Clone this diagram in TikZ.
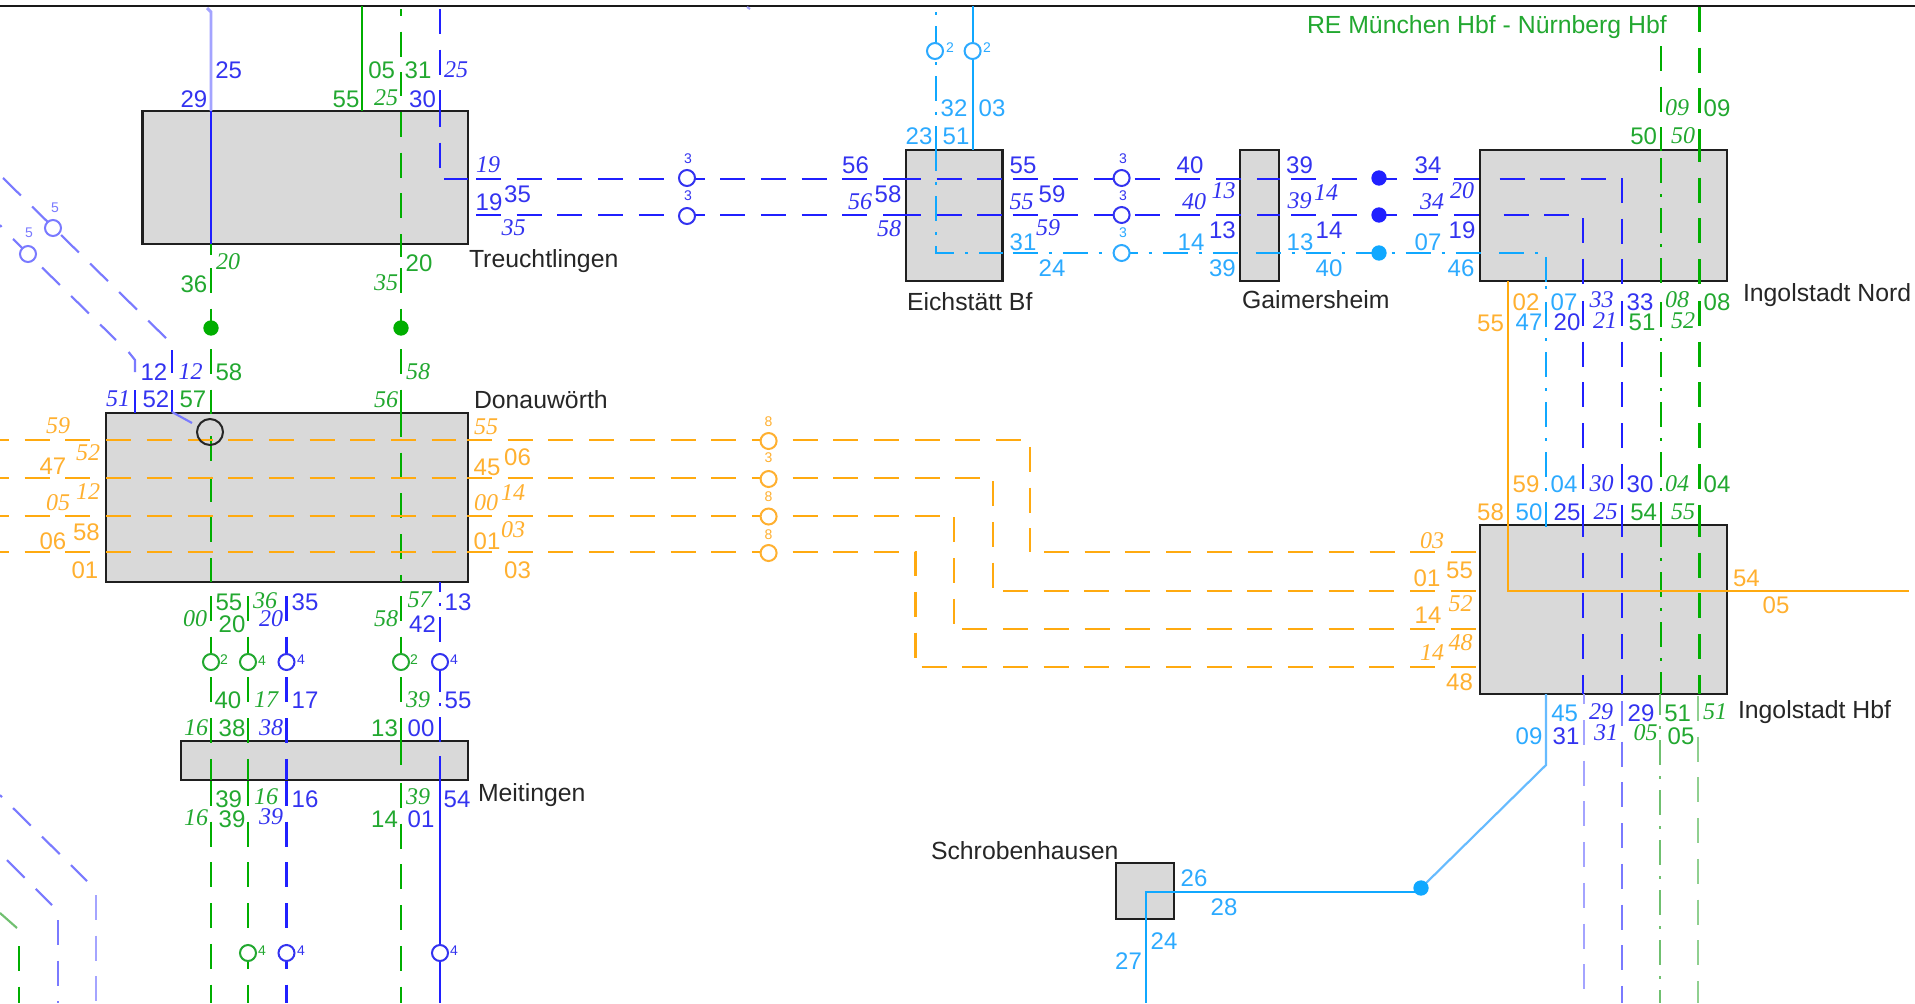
\documentclass[tikz,border=0pt]{standalone}
\usepackage{fontspec}
\setmainfont{Liberation Sans}
\newfontfamily\tmsf{Liberation Serif}
\definecolor{cb}{HTML}{2020FF}
\definecolor{cg}{HTML}{00AE00}
\definecolor{co}{HTML}{FFAA10}
\definecolor{cc}{HTML}{10A8FF}
\definecolor{tb}{HTML}{3333F0}
\definecolor{tg}{HTML}{22A830}
\definecolor{to}{HTML}{FFB030}
\definecolor{tc}{HTML}{2CAAFF}
\definecolor{lv}{HTML}{7A7AFF}
\definecolor{llv}{HTML}{A4A4FF}
\definecolor{lg}{HTML}{70C070}
\definecolor{llg}{HTML}{90D090}
\definecolor{lc}{HTML}{66BBFF}
\newcounter{nc}
\tikzset{
  lw/.style={line width=1.6pt},
  cbl/.style={lw,draw=cb}, cgr/.style={lw,draw=cg}, cor/.style={lw,draw=co}, ccy/.style={lw,draw=cc},
  clv/.style={lw,draw=lv}, cllv/.style={line width=2.2pt,draw=llv}, clg/.style={lw,draw=lg}, cllg/.style={line width=1.8pt,draw=llg}, clc/.style={lw,draw=lc},
  dsh/.style={dash pattern=on 18.75pt off 11.775pt},
  dd/.style={dash pattern=on 18.75pt off 8.25pt on 2.25pt off 8.25pt},
  ph/.code={\pgfmathsetmacro\phv{#1*0.75}\tikzset{dash phase=\phv pt}},
  box/.style={draw=black!88,line width=1.65pt,fill=black!15,inner sep=0pt,outer sep=0pt},
  base/.style={inner sep=0pt,outer sep=0pt,font=\fontsize{18}{18}\selectfont},
  itl/.style={inner sep=0pt,outer sep=0pt,font=\tmsf\itshape\fontsize{18}{18}\selectfont},
  bu/.style={base,text=tb}, bi/.style={itl,text=tb},
  gu/.style={base,text=tg}, gi/.style={itl,text=tg},
  ou/.style={base,text=to}, oi/.style={itl,text=to},
  cu/.style={base,text=tc},
  sm/.style={inner sep=0pt,outer sep=0pt,font=\fontsize{10.5}{10.5}\selectfont},
  stn/.style={inner sep=0pt,outer sep=0pt,font=\fontsize{18.6}{18.6}\selectfont,anchor=base west,text=black!85},
  cir/.style={circle,draw,fill=white,line width=1.5pt,minimum size=12pt,inner sep=0pt,outer sep=0pt},
  dot/.style={circle,minimum size=11.5pt,inner sep=0pt,outer sep=0pt},
}
\newcommand\lin[3]{\stepcounter{nc}\coordinate (A\thenc) at (#2);\coordinate (B\thenc) at (#3);\draw[#1] (A\thenc) -- (B\thenc);}
\newcommand\linc[4]{\stepcounter{nc}\coordinate (A\thenc) at (#2);\coordinate (B\thenc) at (#3);\coordinate (C\thenc) at (#4);\draw[#1] (A\thenc) -- (B\thenc) -- (C\thenc);}
\newcommand\lab[3]{\stepcounter{nc}\node[#1] (T\thenc) at (#2) {#3};}
\newcommand\bx[5]{\node[box,minimum width={(#4-#2)*0.75pt},minimum height={(#5-#3)*0.75pt}] (#1) at ({(#2+#4)/2},{(#3+#5)/2}) {};}
\newcommand\crc[4]{\stepcounter{nc}\node[cir,draw=#1] (Q\thenc) at (#2) {};\node[sm,text=#1] (R\thenc) at (#3) {#4};}
\newcommand\fdot[2]{\stepcounter{nc}\node[dot,fill=#1] (D\thenc) at (#2) {};}
\begin{document}
\begin{tikzpicture}[x=0.75pt,y=-0.75pt]
\useasboundingbox (0,0) rectangle (1915,1003);
\fill[white] (0,0) rectangle (1915,1003);
% stations
\bx{treu}{142.5}{111}{468}{244}
\bx{donau}{106}{413}{468}{582}
\bx{meit}{181}{741}{468}{780}
\bx{eich}{906}{150}{1002.5}{281}
\bx{gaim}{1240}{150}{1279}{281}
\bx{nord}{1480}{150}{1727}{281}
\bx{hbf}{1480}{525}{1727}{694}
\bx{schro}{1116}{863}{1174}{919}
\node[stn] (ntreu) at (469,267) {Treuchtlingen};
\node[stn] (ndon) at (474,408) {Donauwörth};
\node[stn] (nmeit) at (478,801) {Meitingen};
\node[stn] (neich) at (907,310) {Eichstätt Bf};
\node[stn] (ngaim) at (1242,308) {Gaimersheim};
\node[stn] (nnord) at (1743,301) {Ingolstadt Nord};
\node[stn] (nhbf) at (1738,718) {Ingolstadt Hbf};
\node[stn] (nschro) at (931,859) {Schrobenhausen};
\node[stn,text=tg] (nre) at (1307,33) {RE München Hbf - Nürnberg Hbf};
% top rule
\lin{line width=1.5pt,draw=black!90}{0,6}{1915,6}
\lin{line width=1.5pt,draw=llv}{747,7}{750,9}
% green verticals
\lin{cgr}{362,6}{362,111}
\lin{cgr,dsh,ph=18}{401,9}{401,96}
\lin{cgr,dsh}{401,112}{401,257}
\lin{cgr}{211,244}{211,255}
\lin{cgr,dsh}{211,268}{211,333}
\lin{cgr,dsh}{401,268}{401,333}
\lin{cgr,dsh}{211,349}{211,414}
\lin{cgr,dsh}{401,349}{401,414}
\lin{cgr,dsh}{211,436}{211,582}
\lin{cgr,dsh}{401,412}{401,582}
\lin{cgr,dsh}{211,596}{211,780}
\lin{cgr,dsh}{248,596}{248,780}
\lin{cbl,dsh}{286.5,596}{286.5,780}
\lin{cgr,dsh}{401,596}{401,765}
\lin{cgr}{401,740}{401,765}
\lin{cgr,dsh}{211,781}{211,1003}
\lin{cgr,dsh}{248,781}{248,1003}
\lin{cbl,dsh}{286.5,781}{286.5,1003}
\lin{cgr,dsh}{401,783}{401,1003}
% blue at Treuchtlingen
\linc{cllv}{207,8}{211,12}{211,111}
\lin{cbl}{211,111}{211,244}
\lin{cbl,dsh}{440,9}{440,113}
\linc{cbl,dsh}{440,102}{440,179}{468,179}
\lin{cbl,dsh}{476,179}{906,179}
\lin{cbl,dsh}{476,215}{906,215}
\lin{cbl,dsh}{896,179}{1003,179}
\lin{cbl,dsh}{896,215}{1003,215}
\lin{cbl,dsh}{1012.6,179}{1280,179}
\lin{cbl,dsh}{1012.6,215}{1280,215}
\lin{cbl,dsh}{1291,179}{1483,179}
\lin{cbl,dsh}{1291,215}{1487,215}
\lin{cbl,dsh}{1499.5,179}{1607,179}
\lin{cbl,dsh}{1503.6,215}{1570,215}
% Nord / Hbf verticals
\lin{cbl,dsh}{1622,178}{1622,287}
\lin{cbl,dsh}{1583,218}{1583,287}
\lin{cbl,dsh}{1622,301}{1622,527}
\lin{cbl,dsh}{1583,301}{1583,527}
\lin{cbl,dsh}{1622,512}{1622,694}
\lin{cbl,dsh}{1583,512}{1583,694}
\lin{cgr,dsh}{1699.5,7}{1699.5,151}
\lin{cgr,dsh,ph=13}{1699.5,150}{1699.5,287}
\lin{cgr,dsh}{1699.5,301}{1699.5,527}
\lin{cgr,dsh}{1699.5,512}{1699.5,694}
\lin{cgr,dsh}{1660.7,46}{1660.7,151}
\lin{cgr,dd}{1660.7,158}{1660.7,287}
\lin{cgr,dd}{1660.7,302}{1660.7,527}
\lin{cgr,dd,ph=3}{1660.7,525}{1660.7,694}
\lin{cllv,dsh,ph=14.7}{1584,694}{1584,1003}
\lin{clv,dsh}{1622,701}{1622,1003}
\lin{clg,dd,ph=4}{1660,694}{1660,1003}
\lin{cllg,dsh}{1698,696}{1698,1003}
% cyan
\lin{ccy}{972.6,6}{972.6,150}
\lin{ccy,dd,ph=36}{936,12}{936,151}
\linc{ccy,dd}{936,146}{936,253}{1003,253}
\lin{ccy,dd}{1012.6,253}{1239,253}
\lin{ccy,dd}{1255.5,253}{1483,253}
\lin{ccy,dd}{1499,253}{1545,253}
\lin{ccy}{1546.4,257}{1546.4,282}
\lin{ccy}{1546.4,286}{1546.4,289}
\lin{ccy,dd}{1546.4,302}{1546.4,527}
\linc{clc}{1546,694}{1546,765}{1421,888}
\linc{ccy}{1421,891.7}{1146,891.7}{1146,1003}
% x=440 below Donauwoerth
\lin{cbl,dd,ph=15}{440,582}{440,743}
\lin{cbl}{440,756}{440,1003}
% diagonals upper left
\lin{clv}{0,225}{1.5,227}
\lin{clv,dsh}{3,178}{172,344}
\lin{cbl}{172,350}{172,373}
\lin{cbl}{172,390}{172,412}
\lin{clv}{172,412}{192,423}
\lin{clv,dsh}{13,239}{116,340}
\linc{clv}{128.6,352}{135,360}{135,372}
\lin{cbl}{135,390}{135,413}
% diagonals lower left
\lin{clv}{0,795}{2,797}
\lin{clv,dsh}{13,808}{87,881}
\lin{cllv,dsh}{96,895}{96,1003}
\lin{clv,dsh}{7,860}{52,905}
\lin{clv,dsh}{58,920}{58,1003}
\lin{clg}{0,913}{17,928}
\lin{cgr,dsh}{19,946}{19,1003}
% orange
\lin{cor,dsh,ph=16}{0,440}{456,440}
\lin{cor,dsh,ph=16}{0,478}{456,478}
\lin{cor,dsh,ph=16}{0,516}{456,516}
\lin{cor,dsh,ph=16}{0,552}{456,552}
\coordinate (o1a) at (467,440);\coordinate (o1b) at (1030,440);\coordinate (o1c) at (1030,552);
\coordinate (o2a) at (467,478);\coordinate (o2b) at (993,478);\coordinate (o2c) at (993,591);
\coordinate (o3a) at (467,516);\coordinate (o3b) at (954,516);\coordinate (o3c) at (954,629);
\coordinate (o4a) at (467,552);\coordinate (o4b) at (915.5,552);\coordinate (o4c) at (915.5,667);
\draw[cor,dsh] (o1a) -- (o1b) -- (o1c);
\draw[cor,dsh] (o2a) -- (o2b) -- (o2c);
\draw[cor,dsh] (o3a) -- (o3b) -- (o3c);
\draw[cor,dsh] (o4a) -- (o4b) -- (o4c);
\lin{cor,dsh}{1044,552}{1477,552}
\lin{cor,dsh}{1003,591}{1477,591}
\lin{cor,dsh}{962.4,629}{1477,629}
\lin{cor,dsh}{921.6,667}{1477,667}
\linc{cor}{1507.6,281}{1507.6,590.7}{1908.5,590.7}
% circles
\node[cir,draw=black!85,fill=none,minimum size=19.5pt] (bigc) at (210,432) {};
\crc{lv}{53,228}{55,208}{5}
\crc{lv}{28,254}{29,233}{5}
\crc{tb}{687,178}{688,159}{3}
\crc{tb}{687,216}{688,196}{3}
\crc{tb}{1121.6,178}{1123,159}{3}
\crc{tb}{1121.6,215}{1123,196}{3}
\crc{tc}{1121.6,253}{1123,233}{3}
\crc{tc}{935,51}{950,48}{2}
\crc{tc}{972.6,51}{987,48}{2}
\crc{to}{768.6,441}{768.6,422}{8}
\crc{to}{768.6,479}{768.6,458}{3}
\crc{to}{768.6,516.5}{768.6,497}{8}
\crc{to}{768.6,553}{768.6,535}{8}
\crc{tg}{211,662}{224,660}{2}
\crc{tg}{248,662}{262,661}{4}
\crc{tb}{286.5,662}{301,660}{4}
\crc{tg}{401,662}{414,660}{2}
\crc{tb}{440,662}{454,660}{4}
\crc{tg}{248,953}{262,951}{4}
\crc{tb}{286.5,953}{301,951}{4}
\crc{tb}{440,953}{454,951}{4}
\fdot{cg}{211,328}
\fdot{cg}{401,328}
\fdot{cb}{1379,178}
\fdot{cb}{1379,215}
\fdot{cc}{1379,253}
\fdot{cc}{1421,888}
% labels Treuchtlingen
\lab{bu}{228.6,70}{25}\lab{bu}{194,99}{29}\lab{gu}{381.6,70}{05}\lab{gu}{418,70}{31}\lab{bi}{456,70}{25}
\lab{gu}{346,99}{55}\lab{gi}{386,98}{25}\lab{bu}{422.5,99}{30}
\lab{bi}{488,165}{19}\lab{bu}{489,202}{19}\lab{bu}{517.5,194}{35}\lab{bi}{513.5,228}{35}
\lab{gi}{228,262}{20}\lab{gu}{419,263}{20}\lab{gu}{194,284}{36}\lab{gi}{386,283}{35}
% Donauwoerth
\lab{bu}{154,372}{12}\lab{bi}{190.6,372}{12}\lab{gu}{229,372}{58}\lab{gi}{418,372}{58}
\lab{bi}{118,399}{51}\lab{bu}{156,399}{52}\lab{gu}{193,399}{57}\lab{gi}{386,400}{56}
\lab{oi}{58,426}{59}\lab{oi}{486,427}{55}\lab{oi}{88,453}{52}\lab{ou}{53,466}{47}\lab{ou}{517.5,457}{06}\lab{ou}{487,467}{45}
\lab{oi}{58,503}{05}\lab{oi}{88,492}{12}\lab{oi}{486,503}{00}\lab{oi}{513,493}{14}
\lab{ou}{86.5,532}{58}\lab{ou}{53,541}{06}\lab{ou}{487,541}{01}\lab{oi}{513,530}{03}\lab{ou}{85,570}{01}\lab{ou}{517.5,570}{03}
\lab{gu}{229,602}{55}\lab{gi}{265,601}{36}\lab{bu}{305,602}{35}\lab{gi}{419.6,600}{57}\lab{bu}{458,602}{13}
\lab{gi}{195,619}{00}\lab{gu}{232,624}{20}\lab{bi}{271,619}{20}\lab{gi}{386,619}{58}\lab{bu}{422.5,624}{42}
% Meitingen
\lab{gu}{228,700}{40}\lab{gi}{266,700}{17}\lab{bu}{305,700}{17}\lab{gi}{418,700}{39}\lab{bu}{458,700}{55}
\lab{gi}{196,728}{16}\lab{gu}{232,728}{38}\lab{bi}{271,728}{38}\lab{gu}{384.5,728}{13}\lab{bu}{421,728}{00}
\lab{gu}{228.6,799}{39}\lab{gi}{266,797}{16}\lab{bu}{305,799}{16}\lab{gi}{418,797}{39}\lab{bu}{457,799}{54}
\lab{gi}{196,818}{16}\lab{gu}{232,819}{39}\lab{bi}{271,817}{39}\lab{gu}{384.5,819}{14}\lab{bu}{421,819}{01}
% Eichstaett / Gaimersheim
\lab{cu}{954,108}{32}\lab{cu}{992,108}{03}\lab{cu}{919,136}{23}\lab{cu}{956,136}{51}
\lab{bu}{855.5,165}{56}\lab{bu}{1023,165}{55}\lab{bu}{1190,165}{40}\lab{bu}{888,194}{58}\lab{bu}{1052,194}{59}
\lab{bi}{860,202}{56}\lab{bi}{1021.6,202}{55}\lab{bi}{1194,202}{40}\lab{bi}{1223.7,191}{13}\lab{bi}{889,229}{58}\lab{bi}{1048,228}{59}
\lab{bu}{1222.4,230}{13}\lab{cu}{1023,242}{31}\lab{cu}{1191,242}{14}\lab{cu}{1052,268}{24}\lab{cu}{1222.4,268}{39}
\lab{bu}{1299.5,165}{39}\lab{bu}{1428,165}{34}\lab{bi}{1326,193}{14}\lab{bi}{1299.5,201}{39}\lab{bi}{1432,202}{34}\lab{bi}{1462,191}{20}
\lab{bu}{1329,230}{14}\lab{bu}{1462,230}{19}\lab{cu}{1300,242}{13}\lab{cu}{1428,242}{07}\lab{cu}{1329,268}{40}\lab{cu}{1461,268}{46}
% Ingolstadt Nord
\lab{gi}{1677,108}{09}\lab{gu}{1717,108}{09}\lab{gu}{1643.6,136}{50}\lab{gi}{1683,136}{50}
\lab{ou}{1526,302}{02}\lab{cu}{1564,302}{07}\lab{bi}{1601.5,300}{33}\lab{bu}{1640,302}{33}\lab{gi}{1677,300}{08}\lab{gu}{1717,302}{08}
\lab{ou}{1490.5,323}{55}\lab{cu}{1529,322}{47}\lab{bu}{1567,322}{20}\lab{bi}{1605,321}{21}\lab{gu}{1642,322}{51}\lab{gi}{1683,321}{52}
% Ingolstadt Hbf
\lab{ou}{1526,484}{59}\lab{cu}{1564,484}{04}\lab{bi}{1601.5,484}{30}\lab{bu}{1640,484}{30}\lab{gi}{1677,484}{04}\lab{gu}{1717,484}{04}
\lab{ou}{1490.5,512}{58}\lab{cu}{1529,512}{50}\lab{bu}{1567,512}{25}\lab{bi}{1605.6,512}{25}\lab{gu}{1643.6,512}{54}\lab{gi}{1683,512}{55}
\lab{oi}{1432,541}{03}\lab{ou}{1459.5,570}{55}\lab{ou}{1427,578}{01}\lab{oi}{1460.7,604}{52}\lab{ou}{1428,615}{14}\lab{oi}{1460.7,643}{48}\lab{oi}{1432,653}{14}\lab{ou}{1459.5,682}{48}
\lab{ou}{1746.4,578}{54}\lab{ou}{1776,605}{05}
\lab{cu}{1564.7,713}{45}\lab{bi}{1601,712}{29}\lab{bu}{1641,713}{29}\lab{gu}{1677.6,713}{51}\lab{gi}{1715,712}{51}
\lab{cu}{1529,736}{09}\lab{bu}{1566,736}{31}\lab{bi}{1606,733}{31}\lab{gi}{1645.7,733}{05}\lab{gu}{1681,736}{05}
% Schrobenhausen
\lab{cu}{1194,878}{26}\lab{cu}{1224,907}{28}\lab{cu}{1164,941}{24}\lab{cu}{1128.5,961}{27}
\end{tikzpicture}
\end{document}
